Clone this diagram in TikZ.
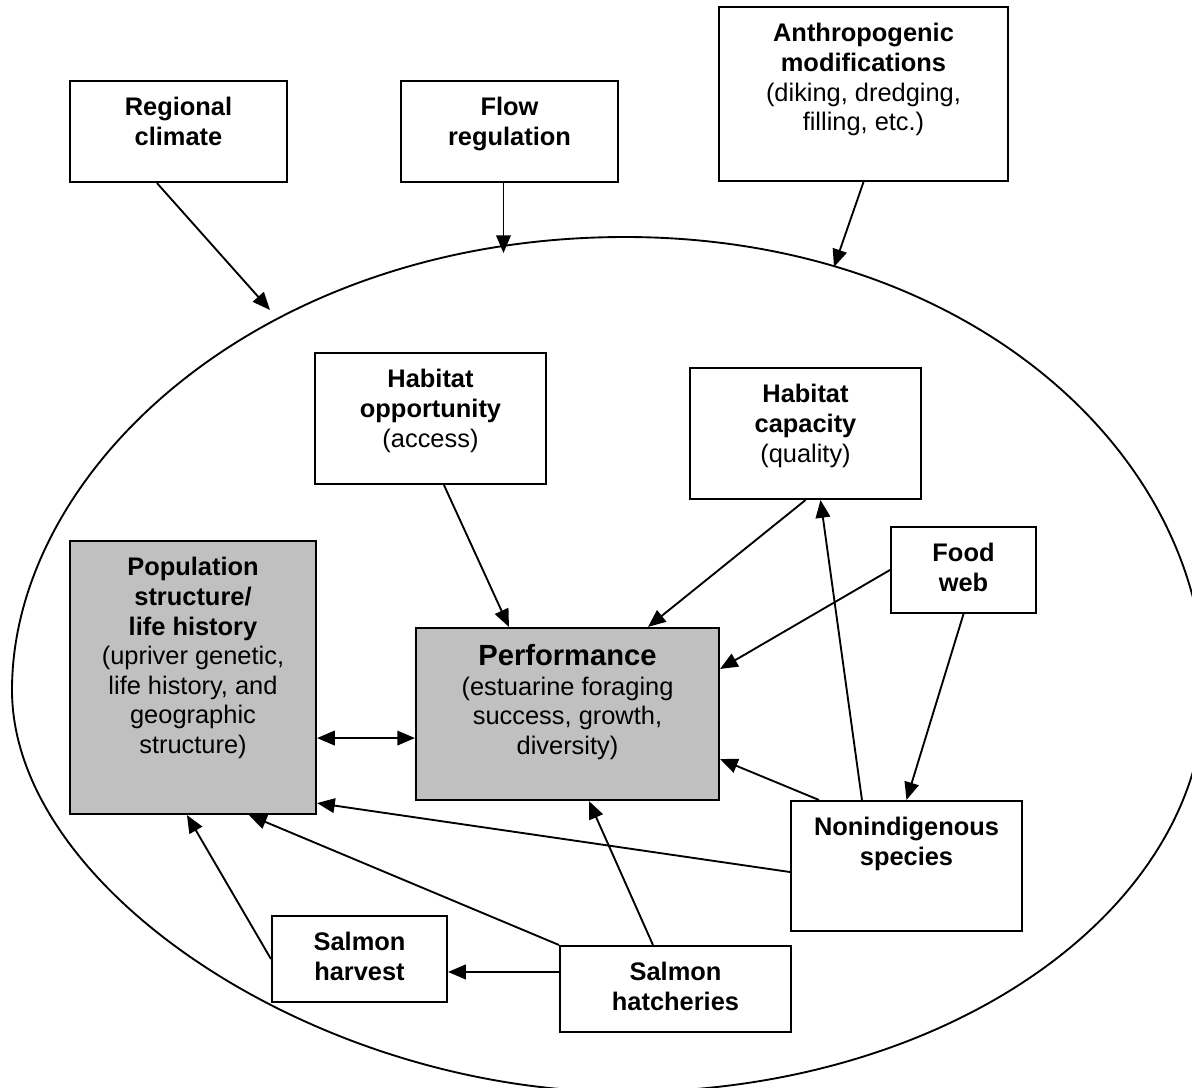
\documentclass[tikz,border=0pt]{standalone}
\usepackage{fontspec}
\setmainfont{Liberation Sans}
\usetikzlibrary{arrows.meta,calc,fit}
\definecolor{shade}{HTML}{C0C0C0}
\newcommand{\plain}[1]{{\mdseries #1}}
\tikzset{
  box/.style={draw, line width=1pt, inner sep=0pt, fill=white, fit={#1}},
  grey box/.style={box={#1}, fill=shade},
  caption/.style={anchor=north, inner sep=0pt, align=center, yshift=-8.2pt,
    font=\fontsize{12.2}{14.2}\selectfont\bfseries},
  link/.style={line width=0.9pt, ->},
  rim/.style={line width=0.9pt}
}
\begin{document}
\begin{tikzpicture}[x=0.48pt, y=-0.48pt, >={Triangle[length=8.5pt,width=7pt]}]
  \useasboundingbox (0,0) rectangle (1192,1087);
  % estuary outline
  \draw[rim] (12,690) .. controls (12,470) and (260,237) .. (625,237)
    .. controls (965,237) and (1205,450) .. (1205,690)
    .. controls (1205,912) and (945,1092) .. (625,1092)
    .. controls (319,1092) and (12,890) .. cycle;
  % outside drivers
  \node[box={(70,81) (287,182)}] (climate) {};
  \node[box={(401,81) (618,182)}] (flow) {};
  \node[box={(719,7) (1008,181)}] (anthro) {};
  \node[caption] (climate-txt) at (climate.north) {Regional\\climate};
  \node[caption] (flow-txt) at (flow.north) {Flow\\regulation};
  \node[caption] (anthro-txt) at (anthro.north)
    {Anthropogenic\\modifications\\\plain{(diking, dredging,}\\\plain{filling, etc.)}};
  % inside the estuary
  \node[box={(315,353) (546,484)}] (opportunity) {};
  \node[box={(690,368) (921,499)}] (capacity) {};
  \node[box={(891,527) (1036,613)}] (foodweb) {};
  \node[grey box={(70,541) (316,814)}] (population) {};
  \node[grey box={(416,628) (719,800)}] (performance) {};
  \node[box={(791,801) (1022,931)}] (nonindig) {};
  \node[box={(272,916) (447,1002)}] (harvest) {};
  \node[box={(560,946) (791,1032)}] (hatcheries) {};
  \node[caption] (opportunity-txt) at (opportunity.north)
    {Habitat\\opportunity\\\plain{(access)}};
  \node[caption] (capacity-txt) at (capacity.north)
    {Habitat\\capacity\\\plain{(quality)}};
  \node[caption] (foodweb-txt) at (foodweb.north) {Food\\web};
  \node[caption] (population-txt) at (population.north)
    {Population\\structure/\\life history\\\plain{(upriver genetic,}\\\plain{life history, and}\\\plain{geographic}\\\plain{structure)}};
  \node[caption] (performance-txt) at (performance.north)
    {{\fontsize{14}{14.2}\selectfont Performance}\\\plain{(estuarine foraging}\\\plain{success, growth,}\\\plain{diversity)}};
  \node[caption] (nonindig-txt) at (nonindig.north) {Nonindigenous\\species};
  \node[caption] (harvest-txt) at (harvest.north) {Salmon\\harvest};
  \node[caption] (hatcheries-txt) at (hatcheries.north) {Salmon\\hatcheries};
  % arrows onto the outline
  \coordinate (climate-hit) at (270,310);
  \coordinate (flow-hit) at ($(flow.south)+(-6,70)$);
  \coordinate (anthro-hit) at (834,267);
  \draw[link] ($(climate.south west)+(88,0)$) -- (climate-hit);
  \draw[link] ($(flow.south)+(-6,0)$) -- (flow-hit);
  \draw[link] (anthro.south) -- (anthro-hit);
  % links between boxes
  \draw[link] ($(opportunity.south west)+(130,0)$) -- ($(performance.north west)+(94,0)$);
  \draw[link] (capacity.south) -- ($(performance.north west)+(233,0)$);
  \draw[link] (foodweb.west) -- ($(performance.north east)+(0,42)$);
  \draw[link] (foodweb.south) -- (nonindig.north);
  \draw[link] ($(nonindig.north west)+(72,0)$) -- ($(capacity.south)+(15,0)$);
  \draw[link] ($(nonindig.north west)+(29,0)$) -- ($(performance.south east)+(0,-42)$);
  \draw[link] ($(nonindig.west)+(0,6)$) -- ($(population.south east)+(0,-12)$);
  \coordinate (perf-in) at ($(performance.south west)+(0,-63)$);
  \draw[link, <->] (population.east |- perf-in) -- (perf-in);
  \draw[link] ($(hatcheries.north west)+(94,0)$) -- ($(performance.south west)+(174,0)$);
  \draw[link] (hatcheries.north west) -- ($(population.south west)+(180,0)$);
  \coordinate (hatch-out) at ($(hatcheries.north west)+(0,27)$);
  \draw[link] (hatch-out) -- (harvest.east |- hatch-out);
  \draw[link] (harvest.west) -- ($(population.south west)+(118,0)$);
\end{tikzpicture}
\end{document}
